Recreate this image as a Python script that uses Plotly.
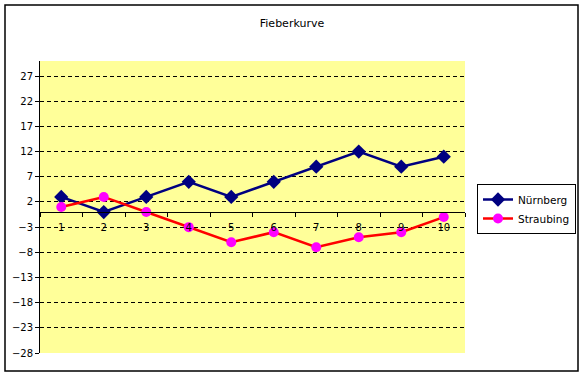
import plotly.graph_objects as go

days = [1, 2, 3, 4, 5, 6, 7, 8, 9, 10]
nuernberg = [3, 0, 3, 6, 3, 6, 9, 12, 9, 11]
straubing = [1, 3, 0, -3, -6, -4, -7, -5, -4, -1]
y_ticks = [-28, -23, -18, -13, -8, -3, 2, 7, 12, 17, 22, 27]
grid_ticks = y_ticks[1:]

W, H = 585, 378
L, R, T, B = 40, 120, 61, 25
ymin, ymax = -28, 30

fig = go.Figure()
fig.add_trace(go.Scatter(
    x=days, y=nuernberg, name="Nürnberg", mode="lines+markers",
    line=dict(color="#000080", width=2.5),
    marker=dict(symbol="diamond", size=11, color="#000080")))
fig.add_trace(go.Scatter(
    x=days, y=straubing, name="Straubing", mode="lines+markers",
    line=dict(color="#FF0000", width=2.5),
    marker=dict(symbol="circle", size=10, color="#FF00FF")))

pw = W - L - R
ph = H - T - B
fig.add_shape(type="rect", xref="paper", yref="paper",
              x0=(5 - L) / pw, x1=(578 - L) / pw,
              y0=(H - B - 371) / ph, y1=(H - B - 5) / ph,
              line=dict(color="black", width=1.5), layer="below")

font = "DejaVu Sans, Liberation Sans, sans-serif"
fig.update_layout(
    width=W, height=H,
    margin=dict(l=L, r=R, t=T, b=B, autoexpand=False),
    paper_bgcolor="white", plot_bgcolor="#FFFF99",
    font=dict(family=font, size=10, color="black"),
    title=dict(text="Fieberkurve", x=292 / W, xanchor="center",
               y=1 - 23 / H, yanchor="middle", font=dict(size=11, color="black")),
    showlegend=True,
    legend=dict(x=(477 - L) / pw, xanchor="left", y=(H - B - 184) / ph, yanchor="top",
                bordercolor="black", borderwidth=1, bgcolor="white", itemwidth=30,
                font=dict(size=10.5, family=font), tracegroupgap=0),
    xaxis=dict(range=[0.5, 10.5], tickvals=days, ticktext=[str(d) for d in days],
               showgrid=False, zeroline=False, showline=True, linecolor="black", linewidth=1,
               anchor="free", position=(0 - ymin) / (ymax - ymin),
               ticks="", ticklabelstandoff=6,
               minor=dict(tickvals=[d + 0.5 for d in [0] + days], ticks="outside",
                          ticklen=4, tickcolor="black", showgrid=False)),
    yaxis=dict(range=[ymin, ymax], tickvals=y_ticks, showgrid=False,
               zeroline=False, showline=True, linecolor="black", linewidth=1,
               ticks="outside", ticklen=4, tickcolor="black",
               minor=dict(tickvals=grid_ticks, showgrid=True, gridcolor="black",
                          griddash="4px,3px", gridwidth=1, ticks="")),
)

fig.write_html("out.html", config={"displayModeBar": False},
               post_script="document.body.style.margin='0';")
